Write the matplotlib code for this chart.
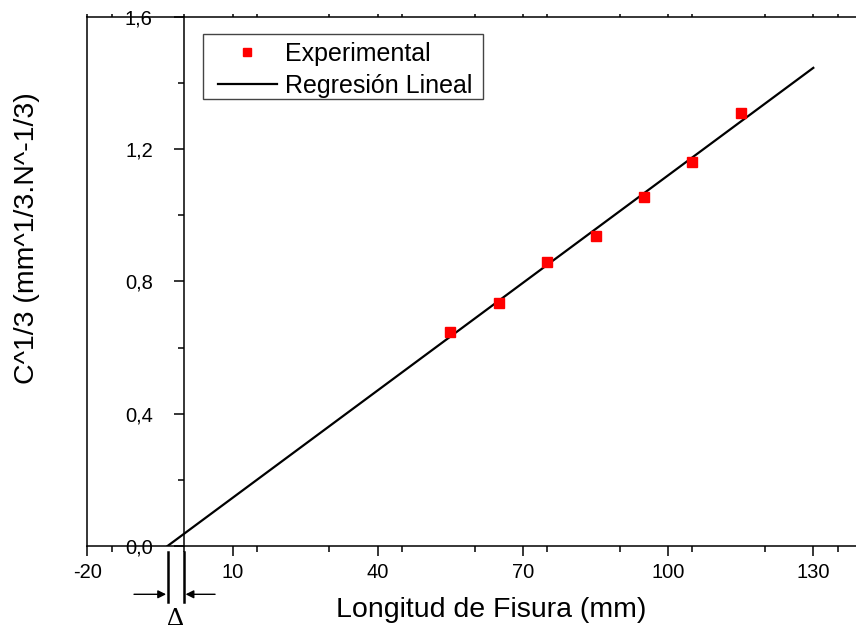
import numpy as np
import matplotlib
matplotlib.use("Agg")
import matplotlib.pyplot as plt
from matplotlib.ticker import MultipleLocator, FixedLocator
from matplotlib.patches import Rectangle

plt.rcParams['font.family'] = ['Liberation Sans', 'DejaVu Sans']

# Crack length (mm) and compliance^(1/3) measurements
crack_length = [55, 65, 75, 85, 95, 105, 115]
compliance_cbrt = [0.648, 0.736, 0.859, 0.938, 1.057, 1.160, 1.311]

x_ticks = [-20, 10, 40, 70, 100, 130]
x_tick_labels = ['-20', '10', '40', '70', '100', '130']
y_ticks = [0.0, 0.4, 0.8, 1.2, 1.6]
y_tick_labels = ['0,0', '0,4', '0,8', '1,2', '1,6']

fit_end = 130

# Least-squares line through the measurements
slope, intercept = np.polyfit(crack_length, compliance_cbrt, 1)
x_zero = -intercept / slope
fit_x = np.array([x_zero, fit_end])
fit_y = intercept + slope * fit_x

fig = plt.figure(figsize=(8.56, 6.31), dpi=100)
W, H = 856, 631
px_per_unit = 4.84
ax = fig.add_axes([87.3 / W, 85 / H, 160 * px_per_unit / W, 529 / H])
ax.set_xlim(-20, 140)
ax.set_ylim(0, 1.6)

ax.plot(fit_x, fit_y, color='black', lw=1.6, zorder=2, label='Regresión Lineal')
ax.plot(crack_length, compliance_cbrt, ls='none', marker='s', ms=7.2,
        color='#ff0000', mec='#ff0000', zorder=3, label='Experimental')

# Spines: y axis drawn through x = 0, plain frame line on the left edge
ax.spines['right'].set_visible(False)
ax.spines['left'].set_position(('data', 0))
for s in ('left', 'bottom', 'top'):
    ax.spines[s].set_linewidth(1.1)
ax.plot([0, 0], [0, 1], transform=ax.transAxes, color='black', lw=1.1,
        clip_on=False, zorder=1)

ax.xaxis.set_major_locator(FixedLocator(x_ticks))
ax.set_xticklabels(x_tick_labels)
ax.xaxis.set_minor_locator(MultipleLocator(15))
ax.yaxis.set_major_locator(FixedLocator(y_ticks))
ax.set_yticklabels(y_tick_labels)
ax.yaxis.set_minor_locator(MultipleLocator(0.2))

ax.tick_params(axis='x', which='major', direction='out', length=7, width=1.1,
               labelsize=14.5, pad=5, top=True)
ax.tick_params(axis='x', which='minor', direction='out', length=4, width=1.1, top=True)
ax.tick_params(axis='y', which='major', direction='out', length=7.5, width=1.1,
               labelsize=14.5, pad=15)
ax.tick_params(axis='y', which='minor', direction='out', length=4.5, width=1.1)
# Tiny ticks along the top edge
for t in ax.xaxis.get_major_ticks() + ax.xaxis.get_minor_ticks():
    t.tick2line.set_markersize(2)

ax.set_xlabel('Longitud de Fisura (mm)', fontsize=20.5)
ax.xaxis.set_label_coords((491.5 - 87.3) / (160 * px_per_unit), -0.096)
ax.set_ylabel('C^1/3 (mm^1/3.N^-1/3)', fontsize=20.5)
ax.yaxis.set_label_coords((40 - 87.3) / (160 * px_per_unit), 0.582)

handles, labels = ax.get_legend_handles_labels()
leg = ax.legend(handles[::-1], labels[::-1], fontsize=18, loc='upper left',
                bbox_to_anchor=(218 / W, 1 - 42 / H), bbox_transform=fig.transFigure,
                borderaxespad=0, borderpad=0, handlelength=2.35, handletextpad=0.32,
                labelspacing=0.32, frameon=False, markerscale=0.85)
# Legend border box
fig.add_artist(Rectangle((203 / W, 1 - 99 / H), 280 / W, 65 / H,
                         transform=fig.transFigure, fill=False,
                         ec='#444444', lw=1.0, zorder=5))

# Offset marker between the line's x-intercept and the y axis
xt = ax.get_xaxis_transform()
for xv in (x_zero, 0):
    ax.plot([xv, xv], [-0.0108, -0.105], transform=xt, color='black', lw=1.8,
            clip_on=False)
arrow = dict(arrowstyle='-|>', color='black', lw=1.0, mutation_scale=12,
             shrinkA=0, shrinkB=0)
ax.annotate('', xy=(x_zero - 0.3, -0.0913), xytext=(-10.35, -0.0913),
            xycoords=xt, textcoords=xt, arrowprops=arrow, annotation_clip=False)
ax.annotate('', xy=(0.3, -0.0913), xytext=(6.4, -0.0913),
            xycoords=xt, textcoords=xt, arrowprops=arrow, annotation_clip=False)
ax.text(x_zero / 2, -(625 - 546) / 529, 'Δ', transform=xt, ha='center',
        va='baseline', fontsize=19, family=['Liberation Serif', 'DejaVu Serif'])

fig.savefig('out.png', dpi=100)
